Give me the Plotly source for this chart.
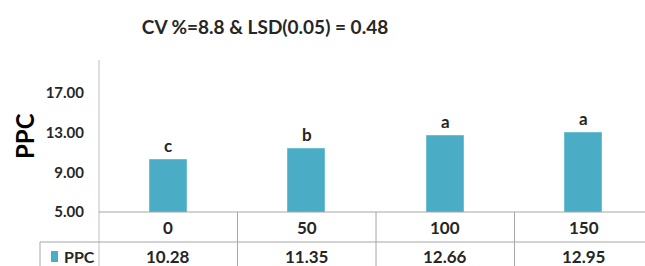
import plotly.graph_objects as go

categories = ["0", "50", "100", "150"]
ppc_values = [10.28, 11.35, 12.66, 12.95]
letters = ["c", "b", "a", "a"]
series_name = "PPC"
title_text = "CV %=8.8 & LSD(0.05) = 0.48"
y_ticks = [5, 9, 13, 17]

W, H = 645, 266
L, R, T, B = 99, 645, 60, 212
FONT = "Lato"
BAR = "#4BACC6"
LINE = "#a6a6a6"
TXT = "#262626"


def px(x):
    return (x - L) / (R - L)


def py(y):
    return (B - y) / (B - T)


xs = list(range(len(categories)))
fig = go.Figure()
fig.add_trace(go.Bar(x=xs, y=ppc_values, width=0.27, marker=dict(color=BAR, line=dict(color="#6cc0d6", width=1)),
                     showlegend=False, hoverinfo="skip"))

span = (R - L) / 138.5
fig.update_layout(
    width=W, height=H,
    margin=dict(l=L, r=W - R, t=T, b=H - B),
    paper_bgcolor="white", plot_bgcolor="white",
    title=dict(text=title_text, x=(265) / W, xanchor="center", y=1 - 27 / H, yanchor="middle",
               font=dict(family=FONT, size=19, color=TXT, weight="bold")),
    xaxis=dict(range=[-0.5, -0.5 + span], showticklabels=False, showgrid=False, zeroline=False, showline=False,
               ticks=""),
    yaxis=dict(range=[5, 20.3], tickvals=y_ticks, tickformat=".2f", showgrid=False, zeroline=False,
               showline=False, ticks="", ticklabelstandoff=14,
               tickfont=dict(family=FONT, size=15, color=TXT, weight="bold")),
    bargap=0,
)

shapes = []
# left axis line
shapes.append(dict(type="line", xref="paper", yref="paper", x0=px(99), x1=px(99), y0=py(60), y1=py(270),
                   line=dict(color="#bfbfbf", width=1)))
# category axis line
shapes.append(dict(type="line", xref="paper", yref="paper", x0=px(99), x1=px(660), y0=py(212), y1=py(212),
                   line=dict(color=LINE, width=1)))
# row divider
shapes.append(dict(type="line", xref="paper", yref="paper", x0=px(40), x1=px(660), y0=py(242), y1=py(242),
                   line=dict(color=LINE, width=1)))
# legend cell left edge
shapes.append(dict(type="line", xref="paper", yref="paper", x0=px(40), x1=px(40), y0=py(242), y1=py(270),
                   line=dict(color=LINE, width=1)))
# category dividers
for i in range(1, len(categories) + 1):
    shapes.append(dict(type="line", xref="x", yref="paper", x0=i - 0.5, x1=i - 0.5, y0=py(212), y1=py(270),
                       line=dict(color=LINE, width=1)))
# legend swatch
shapes.append(dict(type="rect", xref="paper", yref="paper", x0=px(51), x1=px(58), y0=py(262), y1=py(251),
                   fillcolor=BAR, line=dict(width=0)))
fig.update_layout(shapes=shapes)

ann = []
for i, (v, l) in enumerate(zip(ppc_values, letters)):
    ann.append(dict(x=i, y=v, xref="x", yref="y", text=l, showarrow=False, yanchor="bottom", yshift=2,
                    font=dict(family=FONT, size=17, color=TXT, weight="bold")))
    ann.append(dict(x=i, y=py(227), xref="x", yref="paper", text=categories[i], showarrow=False,
                    yanchor="middle", font=dict(family=FONT, size=17, color=TXT, weight="bold")))
    ann.append(dict(x=i, y=py(256), xref="x", yref="paper", text=f"{v:.2f}", showarrow=False,
                    yanchor="middle", font=dict(family=FONT, size=17, color=TXT, weight="bold")))
ann.append(dict(x=px(62), y=py(256), xref="paper", yref="paper", text=series_name, showarrow=False,
                xanchor="left", yanchor="middle", font=dict(family=FONT, size=16, color=TXT, weight="bold")))
ann.append(dict(x=px(24), y=py(136), xref="paper", yref="paper", text=series_name, showarrow=False, textangle=-90,
                xanchor="center", yanchor="middle", font=dict(family=FONT, size=24, color="#000", weight="bold")))
fig.update_layout(annotations=ann)

fig.write_html("out.html", config={"displayModeBar": False},
               post_script="document.body.style.margin='0px';document.body.style.overflow='hidden';")
